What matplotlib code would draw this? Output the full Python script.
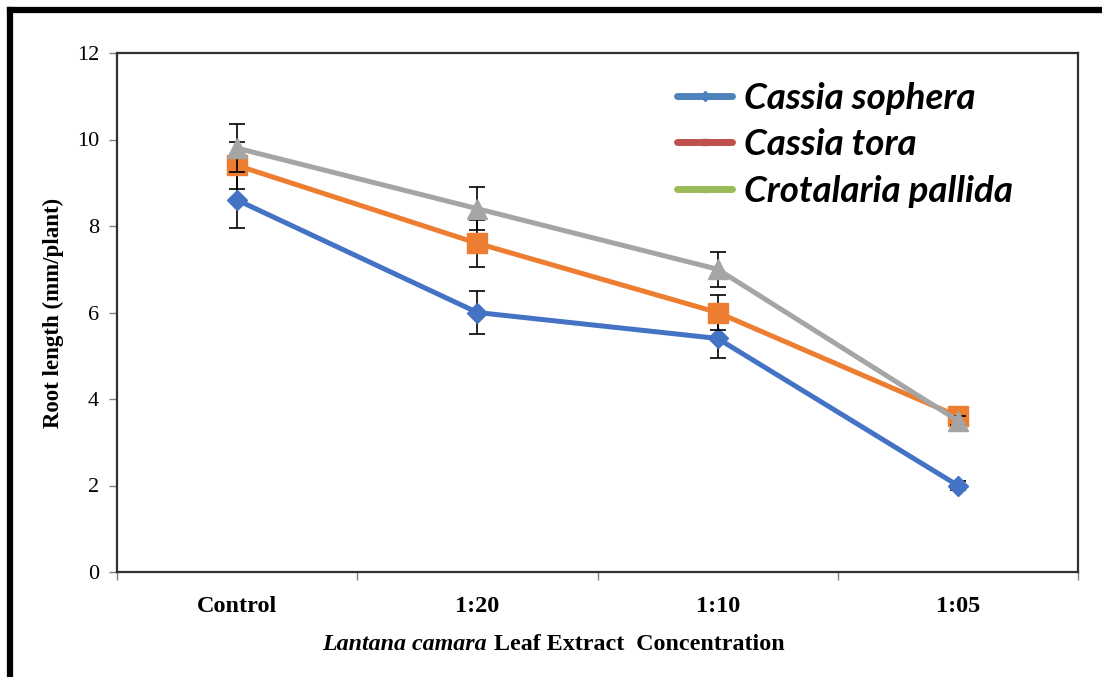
import matplotlib.pyplot as plt
import numpy as np
from matplotlib.lines import Line2D

categories = ['Control', '1:20', '1:10', '1:05']
series_names = ['Cassia sophera', 'Cassia tora', 'Crotalaria pallida']
sophera = [8.6, 6.0, 5.4, 2.0]
sophera_err = [0.65, 0.5, 0.45, 0.1]
tora = [9.4, 7.6, 6.0, 3.6]
tora_err = [0.55, 0.55, 0.4, 0.2]
pallida = [9.8, 8.4, 7.0, 3.5]
pallida_err = [0.55, 0.5, 0.4, 0.1]
y_ticks = [0, 2, 4, 6, 8, 10, 12]

line_colors = ['#4472C4', '#ED7D31', '#A5A5A5']
legend_colors = ['#4F81BD', '#C0504D', '#9BBB59']
markers = ['D', 's', '^']
msizes = [10, 14, 14]

serif = 'Liberation Serif'


def main():
    fig = plt.figure(figsize=(11.02, 6.77), dpi=100)
    ax = fig.add_axes([117 / 1102, 105 / 677, 961 / 1102, 519 / 677])

    x = np.arange(len(categories))
    data = [(sophera, sophera_err), (tora, tora_err), (pallida, pallida_err)]
    for i, (vals, err) in enumerate(data):
        ax.errorbar(x, vals, yerr=err, fmt='none', ecolor='black',
                    elinewidth=1.2, capsize=6, capthick=1.2, zorder=2 + i * 2)
        ax.plot(x, vals, color=line_colors[i], lw=3.6, marker=markers[i],
                markersize=msizes[i], zorder=3 + i * 2)

    ax.set_xlim(-0.5, len(categories) - 0.5)
    ax.set_ylim(0, 12)
    ax.set_yticks(y_ticks)
    ax.set_yticklabels([str(v) for v in y_ticks], fontfamily=serif, fontsize=16)
    ax.set_xticks(np.arange(len(categories) + 1) - 0.5)
    ax.set_xticklabels([])
    ax.set_xticks(x, minor=True)
    ax.set_xticklabels(categories, minor=True, fontfamily=serif,
                       fontweight='bold', fontsize=17.5)
    ax.tick_params(axis='x', which='minor', length=0, pad=17)
    ax.tick_params(axis='both', which='major', direction='out', length=6,
                   width=1, color='#808080')
    ax.tick_params(axis='y', pad=7)
    for s in ax.spines.values():
        s.set_color('#303030')
        s.set_linewidth(1.6)

    ax.set_ylabel('Root length (mm/plant)', fontfamily=serif,
                  fontweight='bold', fontsize=16.5, labelpad=9)

    fig.text(487 / 1102, 1 - 644 / 677, 'Lantana camara', ha='right',
             va='center', fontfamily=serif, fontweight='bold',
             fontstyle='italic', fontsize=17.3)
    fig.text(494 / 1102, 1 - 644 / 677, 'Leaf Extract  Concentration',
             ha='left', va='center', fontfamily=serif, fontweight='bold',
             fontsize=17.3)

    handles = [Line2D([], [], color=legend_colors[i], lw=5, marker=markers[i],
                      markersize=5, solid_capstyle='round')
               for i in range(3)]
    ax.legend(handles, series_names, loc='upper left',
              bbox_to_anchor=(677 / 1102, 1 - 82 / 677),
              bbox_transform=fig.transFigure, frameon=False,
              prop={'family': 'Lato', 'weight': 'bold', 'style': 'italic',
                    'size': 26.5},
              handlelength=1.5, handletextpad=0.33, labelspacing=0.36,
              borderaxespad=0, borderpad=0)

    # outer frame
    fig.add_artist(Line2D([10 / 1102, 10 / 1102], [0, 1 - 10 / 677],
                          transform=fig.transFigure, color='black', lw=4.5,
                          solid_capstyle='projecting'))
    fig.add_artist(Line2D([10 / 1102, 1], [1 - 10 / 677, 1 - 10 / 677],
                          transform=fig.transFigure, color='black', lw=4.5,
                          solid_capstyle='projecting'))

    fig.savefig('out.png', dpi=100)


if __name__ == '__main__':
    main()
